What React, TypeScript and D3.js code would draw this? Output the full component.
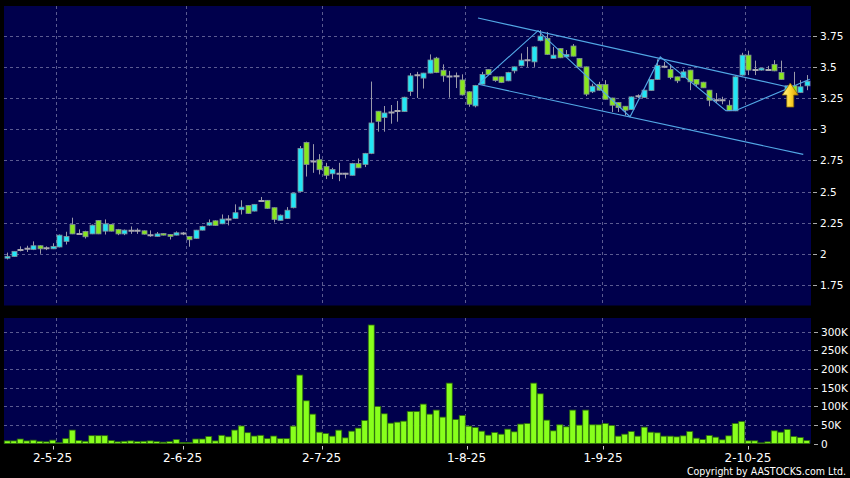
import React from "react";
import * as d3 from "d3";

// [open, high, low, close]
const ohlc: number[][] = [
  [1.965, 2.01, 1.955, 1.98], [1.978, 2.02, 1.975, 2.02], [2.03, 2.06, 2.02, 2.03], [2.04, 2.065, 2.015, 2.04],
  [2.035, 2.1, 2.03, 2.065], [2.065, 2.068, 2.0, 2.04], [2.045, 2.06, 2.03, 2.045], [2.04, 2.085, 2.038, 2.06],
  [2.055, 2.155, 2.052, 2.15], [2.1, 2.177, 2.075, 2.14], [2.235, 2.29, 2.158, 2.16], [2.16, 2.196, 2.158, 2.16],
  [2.18, 2.185, 2.123, 2.137], [2.16, 2.235, 2.158, 2.23], [2.268, 2.27, 2.158, 2.16], [2.182, 2.276, 2.155, 2.24],
  [2.236, 2.24, 2.18, 2.182], [2.195, 2.2, 2.15, 2.16], [2.16, 2.195, 2.15, 2.19], [2.185, 2.22, 2.16, 2.185],
  [2.185, 2.205, 2.16, 2.185], [2.185, 2.188, 2.155, 2.158], [2.15, 2.188, 2.137, 2.15], [2.14, 2.175, 2.138, 2.16],
  [2.163, 2.166, 2.148, 2.15], [2.155, 2.158, 2.115, 2.14], [2.15, 2.18, 2.148, 2.169], [2.163, 2.175, 2.15, 2.163],
  [2.14, 2.142, 2.057, 2.113], [2.124, 2.192, 2.12, 2.19], [2.19, 2.225, 2.188, 2.22], [2.23, 2.276, 2.225, 2.25],
  [2.265, 2.268, 2.225, 2.228], [2.241, 2.316, 2.238, 2.279], [2.276, 2.31, 2.228, 2.276], [2.284, 2.397, 2.28, 2.33],
  [2.354, 2.43, 2.316, 2.375], [2.388, 2.39, 2.32, 2.324], [2.343, 2.4, 2.34, 2.397], [2.424, 2.456, 2.42, 2.424],
  [2.429, 2.432, 2.36, 2.365], [2.37, 2.372, 2.252, 2.276], [2.268, 2.315, 2.265, 2.31], [2.284, 2.375, 2.28, 2.35],
  [2.37, 2.49, 2.365, 2.487], [2.5, 2.865, 2.495, 2.846], [2.894, 2.9, 2.62, 2.717], [2.74, 2.88, 2.65, 2.74],
  [2.755, 2.8, 2.637, 2.675], [2.7, 2.73, 2.6, 2.63], [2.642, 2.69, 2.6, 2.677], [2.642, 2.73, 2.583, 2.642],
  [2.642, 2.65, 2.605, 2.642], [2.63, 2.73, 2.628, 2.725], [2.725, 2.765, 2.688, 2.69], [2.717, 2.81, 2.696, 2.806],
  [2.806, 3.382, 2.8, 3.05], [3.144, 3.146, 2.98, 3.063], [3.093, 3.186, 2.98, 3.13], [3.133, 3.194, 3.044, 3.133],
  [3.146, 3.227, 3.06, 3.146], [3.141, 3.26, 3.138, 3.256], [3.302, 3.45, 3.267, 3.428], [3.433, 3.46, 3.25, 3.433],
  [3.41, 3.452, 3.326, 3.45], [3.45, 3.6, 3.448, 3.555], [3.57, 3.58, 3.45, 3.455], [3.473, 3.52, 3.38, 3.428],
  [3.422, 3.468, 3.253, 3.422], [3.425, 3.455, 3.33, 3.425], [3.395, 3.44, 3.27, 3.275], [3.3, 3.305, 3.18, 3.2],
  [3.187, 3.355, 3.175, 3.35], [3.361, 3.46, 3.358, 3.439], [3.479, 3.482, 3.435, 3.439], [3.42, 3.422, 3.38, 3.39],
  [3.42, 3.422, 3.37, 3.375], [3.388, 3.46, 3.385, 3.455], [3.468, 3.502, 3.448, 3.5], [3.509, 3.608, 3.505, 3.554],
  [3.554, 3.66, 3.5, 3.554], [3.54, 3.665, 3.5, 3.66], [3.71, 3.795, 3.705, 3.747], [3.729, 3.78, 3.595, 3.6],
  [3.568, 3.66, 3.565, 3.594], [3.648, 3.65, 3.57, 3.573], [3.58, 3.635, 3.578, 3.6], [3.667, 3.683, 3.584, 3.586],
  [3.568, 3.57, 3.498, 3.5], [3.5, 3.502, 3.265, 3.281], [3.3, 3.365, 3.29, 3.345], [3.358, 3.38, 3.31, 3.313],
  [3.358, 3.393, 3.238, 3.24], [3.25, 3.252, 3.138, 3.192], [3.214, 3.216, 3.138, 3.173], [3.184, 3.186, 3.11, 3.152],
  [3.157, 3.262, 3.155, 3.259], [3.265, 3.28, 3.25, 3.265], [3.254, 3.316, 3.25, 3.313], [3.31, 3.402, 3.308, 3.399],
  [3.399, 3.56, 3.395, 3.511], [3.5, 3.54, 3.49, 3.5], [3.479, 3.52, 3.4, 3.415], [3.42, 3.422, 3.37, 3.388],
  [3.415, 3.48, 3.41, 3.46], [3.474, 3.476, 3.313, 3.38], [3.399, 3.4, 3.34, 3.361], [3.377, 3.38, 3.33, 3.332],
  [3.313, 3.315, 3.184, 3.232], [3.232, 3.29, 3.21, 3.232], [3.232, 3.26, 3.2, 3.232], [3.192, 3.232, 3.145, 3.147],
  [3.147, 3.425, 3.145, 3.42], [3.434, 3.613, 3.43, 3.594], [3.594, 3.63, 3.434, 3.474], [3.474, 3.55, 3.434, 3.474],
  [3.474, 3.49, 3.47, 3.49], [3.474, 3.508, 3.47, 3.474], [3.52, 3.554, 3.465, 3.468], [3.455, 3.55, 3.398, 3.399],
  [3.3, 3.35, 3.29, 3.348], [3.348, 3.46, 3.28, 3.281], [3.294, 3.393, 3.29, 3.34], [3.348, 3.434, 3.313, 3.385],
];

// volume in thousands of shares
const volumes: number[] = [
  7, 7, 12, 7, 9, 6, 4.5, 9, 2, 13, 36, 8, 6, 21, 21, 21, 8, 4.5, 6, 7,
  5, 6, 7, 5, 3.5, 5, 11, 3, 3, 12, 12, 19, 7, 22, 18, 36, 47, 29, 20, 22,
  13, 20, 13, 13, 46.6, 183.6, 114.6, 78.8, 30.4, 26.9, 19.7, 35.8, 15.2, 33.1, 41.2, 61.8, 318, 99.4, 79.7, 54.6,
  57.3, 60, 86, 86, 105.7, 78.8, 89.6, 70.8, 162, 64.5, 75.2, 46.6, 43, 33.1, 22.4, 29.6, 25, 38.5, 31.3, 52,
  53.7, 162, 133.4, 62.7, 34, 50.2, 44.8, 89.6, 49.3, 89.6, 50.2, 50.2, 53.7, 48.4, 19.7, 25, 32.2, 19.7, 43.9, 30.4,
  28.7, 19.7, 19.7, 17.9, 20.6, 32.2, 14.3, 10.7, 21.5, 17, 9.9, 20.6, 53.7, 59.1, 7.2, 7.2, 1.8, 4.5, 34, 30.4,
  37.6, 18.8, 16.1, 8.1,
];

const priceTicks = [1.75, 2, 2.25, 2.5, 2.75, 3, 3.25, 3.5, 3.75];
const volumeTicks = [0, 50, 100, 150, 200, 250, 300];
const dateLabels = ["2-5-25", "2-6-25", "2-7-25", "1-8-25", "1-9-25", "2-10-25"];
const dateLabelIdx = [7, 27, 48.4, 70.7, 91.7, 114];
const dateGridIdx = [7.6, 27.5, 48.5, 70.5, 91.6, 113.6];

// hand-drawn trend lines, [index, price]
const channelUpper: number[][] = [[72.46, 3.892], [120.15, 3.339]];
const channelLower: number[][] = [[72.5, 3.36], [122.5, 2.798]];
const zigzag: number[][] = [
  [72.5, 3.36], [81.7, 3.79], [95.85, 3.1], [100.5, 3.58], [110.6, 3.148], [112.3, 3.154], [123.5, 3.4],
];
const arrowAt = [120.5, 3.37];

const W = 850;
const H = 478;
const PL = 4, PR = 811;
const MT = 6, MB = 305.5;
const VT = 318, VB = 443.5;

const FONT = "'DejaVu Sans', Verdana, sans-serif";

export default function App() {
  const n = ohlc.length;
  const xb = d3.scaleBand<number>().domain(d3.range(n)).range([3.75, 3.75 + 6.5 * n]);
  const xl = d3.scaleLinear().domain([0, n - 1]).range([7, 7 + 6.5 * (n - 1)]);
  const y = d3.scaleLinear().domain([1.75, 3.75]).range([285, 35.7]);
  const yv = d3.scaleLinear().domain([0, 300]).range([VB, 331.7]);
  const line = d3.line<number[]>().x((d) => xl(d[0])).y((d) => y(d[1]));

  const [ax, ap] = arrowAt;
  const tipX = xl(ax);
  const tipY = y(ap);
  const arrowPath = `M${tipX},${tipY} L${tipX + 8},${tipY + 12} L${tipX + 3.5},${tipY + 12} L${tipX + 3.5},${tipY + 24} L${tipX - 3.5},${tipY + 24} L${tipX - 3.5},${tipY + 12} L${tipX - 8},${tipY + 12} Z`;

  return (
    <svg width={W} height={H} style={{ position: "absolute", left: 0, top: 0, background: "#000" }}>
      <defs>
        <linearGradient id="arrowGrad" x1="0" y1="0" x2="1" y2="0">
          <stop offset="0" stopColor="#fff6a0" />
          <stop offset="0.5" stopColor="#ffd830" />
          <stop offset="1" stopColor="#d89a00" />
        </linearGradient>
        <clipPath id="mainClip"><rect x={PL} y={MT} width={PR - PL} height={MB - MT} /></clipPath>
      </defs>
      <rect x={0} y={0} width={W} height={H} fill="#000" />
      {/* panels */}
      <rect x={PL} y={MT} width={PR - PL} height={MB - MT} fill="#00004c" />
      <rect x={PL} y={VT} width={PR - PL} height={VB - VT} fill="#00004c" />

      {/* grid */}
      <g stroke="#7a7aa8" strokeWidth={1} strokeDasharray="3,3" opacity={0.75}>
        {priceTicks.map((p) => (
          <line key={"hp" + p} x1={PL} x2={PR} y1={Math.round(y(p)) + 0.5} y2={Math.round(y(p)) + 0.5} />
        ))}
        {volumeTicks.filter((v) => v > 0).map((v) => (
          <line key={"hv" + v} x1={PL} x2={PR} y1={Math.round(yv(v)) + 0.5} y2={Math.round(yv(v)) + 0.5} />
        ))}
        {dateGridIdx.map((d) => (
          <g key={"vg" + d}>
            <line x1={Math.round(xl(d)) + 0.5} x2={Math.round(xl(d)) + 0.5} y1={MT} y2={MB} />
            <line x1={Math.round(xl(d)) + 0.5} x2={Math.round(xl(d)) + 0.5} y1={VT} y2={VB} />
          </g>
        ))}
      </g>

      {/* candles */}
      <g clipPath="url(#mainClip)">
        {ohlc.map((c, i) => {
          const [o, h, l, cl] = c;
          const cx = Math.round(xb(i)! + xb.bandwidth() / 2) + 0.5;
          const doji = Math.abs(cl - o) < 0.004;
          const up = cl > o;
          const top = y(Math.max(o, cl));
          const bot = y(Math.min(o, cl));
          return (
            <g key={i}>
              <line x1={cx} x2={cx} y1={y(h)} y2={y(l)} stroke="#9a9aaa" strokeWidth={1} />
              {doji ? (
                <line x1={cx - 3} x2={cx + 3} y1={top} y2={top} stroke="#a8a8b0" strokeWidth={2} />
              ) : (
                <rect
                  x={cx - 2.5}
                  y={top}
                  width={5}
                  height={Math.max(bot - top, 1.5)}
                  fill={up ? "#22e6f6" : "#88e61e"}
                  stroke="#7f8f98"
                  strokeWidth={0.8}
                />
              )}
            </g>
          );
        })}

        {/* trend lines */}
        <g fill="none" stroke="#52a8e6" strokeWidth={1.1}>
          <path d={line(channelUpper) || ""} />
          <path d={line(channelLower) || ""} />
          <path d={line(zigzag) || ""} />
        </g>
        <path d={arrowPath} fill="url(#arrowGrad)" stroke="#8a6a00" strokeWidth={0.8} />
      </g>

      {/* volume bars */}
      {volumes.map((v, i) => {
        const x0 = xb(i)!;
        const top = yv(v);
        return (
          <rect
            key={"v" + i}
            x={x0 + 0.5}
            y={top}
            width={xb.bandwidth() - 0.5}
            height={Math.max(VB - top, 0.5)}
            fill="#88ff1c"
            stroke="#2c6a0c"
            strokeWidth={0.8}
          />
        );
      })}

      {/* price axis */}
      <g fontFamily={FONT} fontSize={10.5} fill="#fff">
        {priceTicks.map((p) => (
          <g key={"pt" + p}>
            <line x1={813} x2={817} y1={Math.round(y(p)) + 0.5} y2={Math.round(y(p)) + 0.5} stroke="#aaa" />
            <text x={820} y={y(p)} dominantBaseline="central">{String(p)}</text>
          </g>
        ))}
        {volumeTicks.map((v) => (
          <g key={"vt" + v}>
            <line x1={814} x2={818} y1={Math.round(yv(v)) + 0.5} y2={Math.round(yv(v)) + 0.5} stroke="#aaa" />
            <text x={821} y={yv(v)} dominantBaseline="central">{v === 0 ? "0" : v + "K"}</text>
          </g>
        ))}
      </g>

      {/* date axis */}
      <g fontFamily={FONT} fontSize={12} fill="#fff">
        {dateLabels.map((d, k) => {
          const tx = xl(dateLabelIdx[k]);
          return (
            <g key={d}>
              <line x1={Math.round(tx) + 0.5} x2={Math.round(tx) + 0.5} y1={446} y2={449.5} stroke="#ccc" />
              <text x={tx} y={462} textAnchor="middle">{d}</text>
            </g>
          );
        })}
      </g>
      <text x={846} y={475} textAnchor="end" fontFamily="'DejaVu Sans Condensed', 'DejaVu Sans', sans-serif" fontSize={10.5} fill="#fff">
        Copyright by AASTOCKS.com Ltd.
      </text>
    </svg>
  );
}
